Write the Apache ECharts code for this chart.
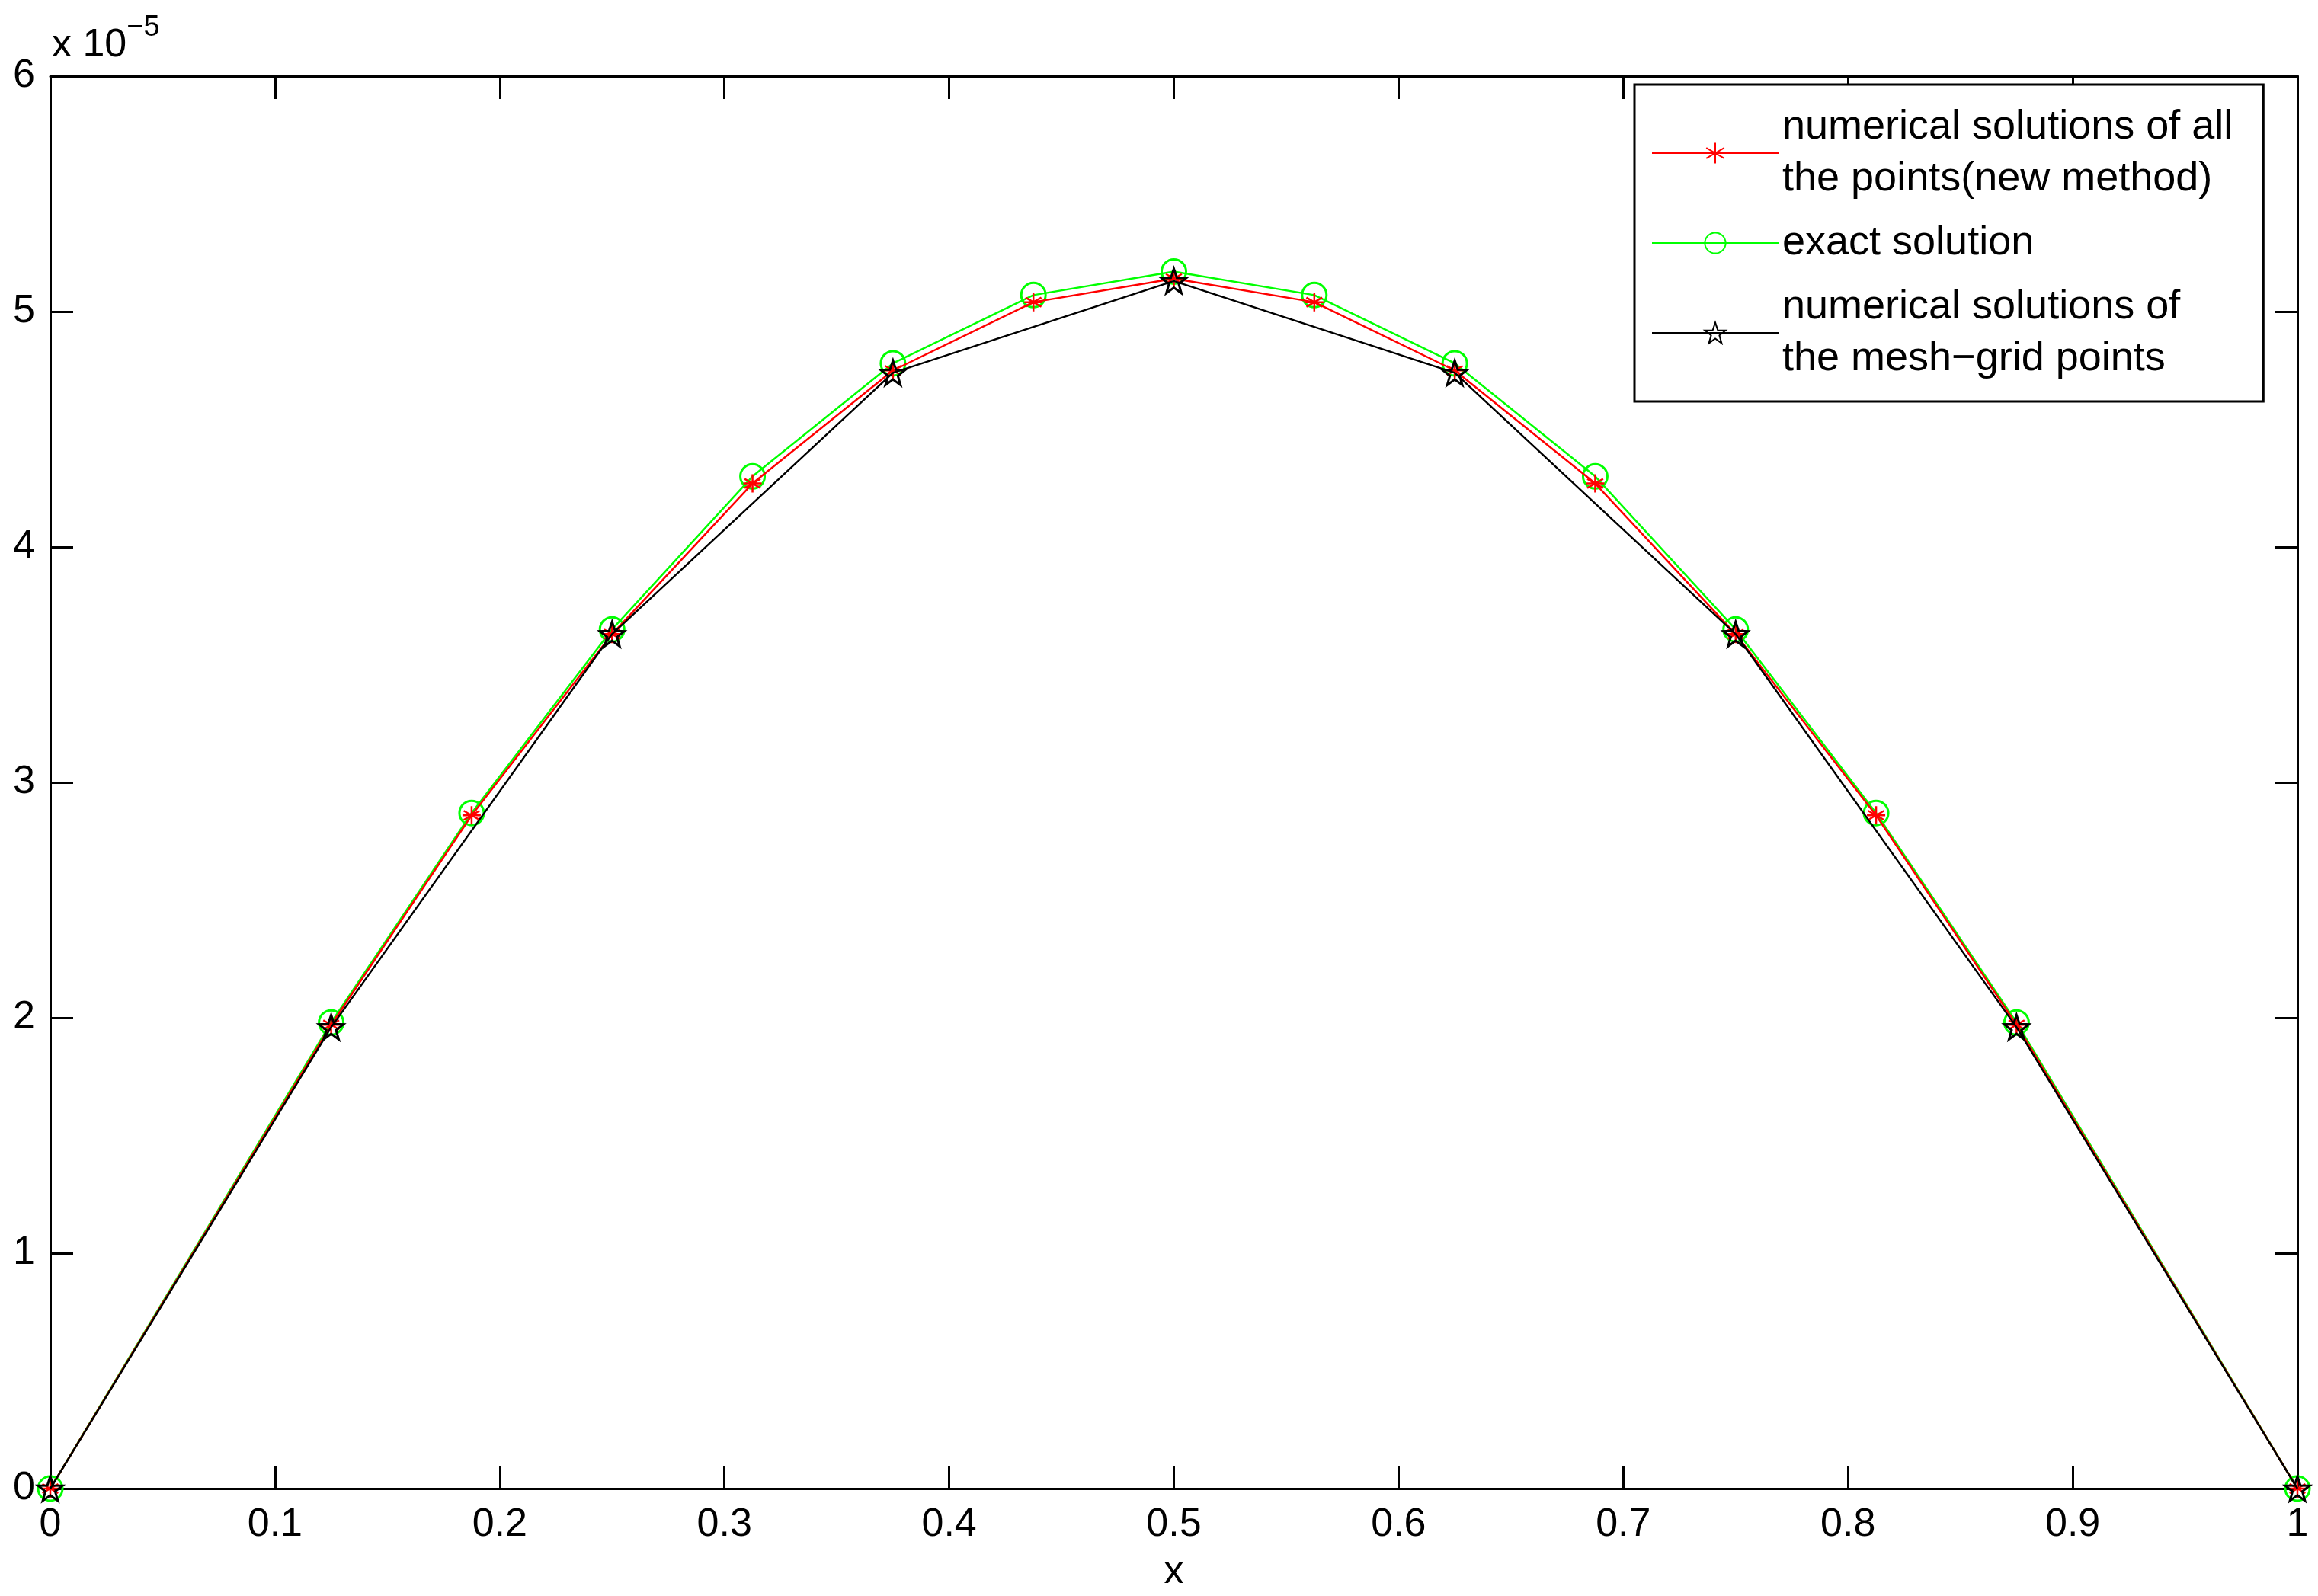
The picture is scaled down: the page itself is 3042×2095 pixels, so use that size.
<!DOCTYPE html>
<html>
<head>
<meta charset="utf-8">
<script src="https://cdn.jsdelivr.net/npm/echarts@6/dist/echarts.min.js"></script>
<style>
html, body { margin: 0; padding: 0; background: #fff; }
#chart { width: 3042px; height: 2095px; }
</style>
</head>
<body>
<div id="chart"></div>
<script>
// values in units of 1e-5
var xFine = [0, 0.125, 0.1875, 0.25, 0.3125, 0.375, 0.4375, 0.5, 0.5625, 0.625, 0.6875, 0.75, 0.8125, 0.875, 1];
var redVals = [0, 1.97, 2.86, 3.63, 4.27, 4.75, 5.04, 5.14, 5.04, 4.75, 4.27, 3.63, 2.86, 1.97, 0];
var greenVals = [0, 1.98, 2.87, 3.65, 4.30, 4.78, 5.07, 5.17, 5.07, 4.78, 4.30, 3.65, 2.87, 1.98, 0];
var xMesh = [0, 0.125, 0.25, 0.375, 0.5, 0.625, 0.75, 0.875, 1];
var blackVals = [0, 1.96, 3.63, 4.74, 5.13, 4.74, 3.63, 1.96, 0];
var names = [
    'numerical solutions of all\nthe points(new method)',
    'exact solution',
    'numerical solutions of\nthe mesh\u2212grid points'
];

function pairs(xs, ys) {
    return xs.map(function (x, i) { return [x, ys[i]]; });
}

var font = 'Liberation Sans, Arial, sans-serif';
var asterisk = 'path://M0,-10L0,10M-8.66,-5L8.66,5M-8.66,5L8.66,-5M-10,0L10,0';
var star = 'path://M0,-10L2.35,-3.24L9.51,-3.09L3.8,1.24L5.88,8.09L0,4L-5.88,8.09L-3.8,1.24L-9.51,-3.09L-2.35,-3.24Z';

var chart = echarts.init(document.getElementById('chart'));
function axisCommon() {
    return {
        axisLine: { show: true, onZero: false, lineStyle: { color: '#000', width: 3 } },
        axisTick: { show: true, inside: true, length: 30, lineStyle: { color: '#000', width: 3 } },
        splitLine: { show: false }
    };
}
chart.setOption({
    animation: false,
    backgroundColor: '#fff',
    grid: { left: 66, right: 27, top: 100, bottom: 140 },
    xAxis: [
        Object.assign({
            type: 'value', min: 0, max: 1, interval: 0.1,
            name: 'x', nameLocation: 'middle', nameGap: 84,
            nameTextStyle: { fontFamily: font, fontSize: 52, color: '#000' },
            axisLabel: { fontFamily: font, fontSize: 52, color: '#000', margin: 22,
                formatter: function (v) { return +v.toFixed(1) + ''; } }
        }, axisCommon()),
        Object.assign({ type: 'value', min: 0, max: 1, interval: 0.1, position: 'top',
            axisLabel: { show: false } }, axisCommon())
    ],
    yAxis: [
        Object.assign({
            type: 'value', min: 0, max: 6, interval: 1,
            axisLabel: { fontFamily: font, fontSize: 52, color: '#000', margin: 20 }
        }, axisCommon()),
        Object.assign({ type: 'value', min: 0, max: 6, interval: 1, position: 'right',
            axisLabel: { show: false } }, axisCommon())
    ],
    legend: {
        orient: 'vertical', left: 2145, top: 111,
        padding: [22, 40, 22, 22], itemGap: 16,
        itemWidth: 166, itemHeight: 34,
        backgroundColor: '#fff', borderColor: '#000', borderWidth: 3, borderRadius: 0,
        textStyle: { fontFamily: font, fontSize: 54, color: '#000', lineHeight: 68 },
        data: names
    },
    graphic: [{
        type: 'text', left: 68, top: 18,
        style: {
            text: '{a|x 10}{b|\u22125}',
            rich: {
                a: { fontFamily: font, fontSize: 52, fill: '#000', verticalAlign: 'bottom' },
                b: { fontFamily: font, fontSize: 38, fill: '#000', verticalAlign: 'top', padding: [0, 0, 30, 0] }
            }
        }
    }],
    series: [
        {
            name: names[0], type: 'line', data: pairs(xFine, redVals),
            symbol: asterisk, symbolSize: 24, z: 3,
            lineStyle: { color: '#ff0000', width: 2.5 },
            itemStyle: { color: 'transparent', borderColor: '#ff0000', borderWidth: 2.5 }
        },
        {
            name: names[1], type: 'line', data: pairs(xFine, greenVals),
            symbol: 'circle', symbolSize: 32, z: 2,
            lineStyle: { color: '#00ff00', width: 2.5 },
            itemStyle: { color: 'transparent', borderColor: '#00ff00', borderWidth: 3 }
        },
        {
            name: names[2], type: 'line', data: pairs(xMesh, blackVals),
            symbol: star, symbolSize: 32, z: 4,
            lineStyle: { color: '#000', width: 2.5 },
            itemStyle: { color: 'transparent', borderColor: '#000', borderWidth: 3 }
        }
    ]
});
</script>
</body>
</html>
